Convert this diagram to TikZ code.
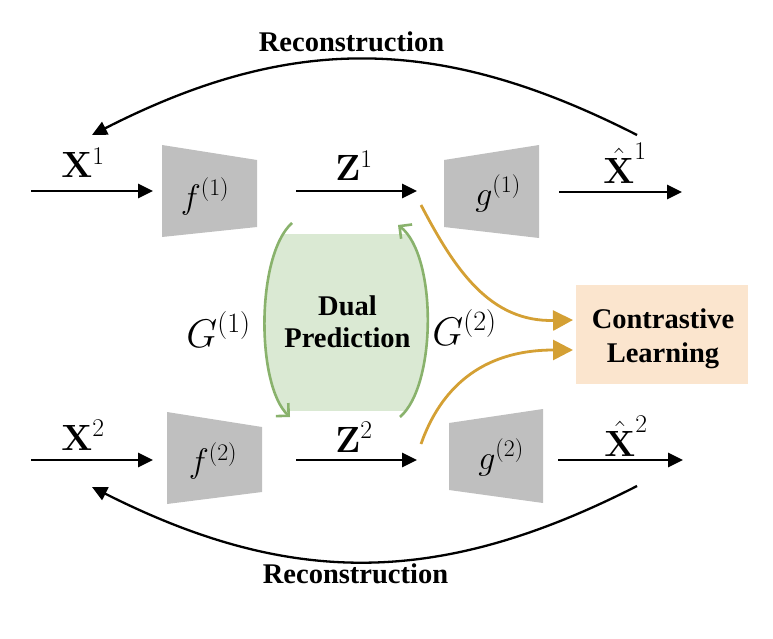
\documentclass[tikz,border=0pt]{standalone}
\usepackage{fix-cm}
\usepackage[no-math]{fontspec}
\newfontfamily\tnr{Liberation Serif}
\usetikzlibrary{arrows.meta}
\definecolor{encgray}{RGB}{191,191,191}
\definecolor{predgreen}{RGB}{137,178,108}
\definecolor{predfill}{RGB}{218,233,211}
\definecolor{contraorange}{RGB}{212,160,52}
\definecolor{contrafill}{RGB}{251,229,206}
\newcommand{\hatsup}[1]{\raisebox{10pt}{$\scriptstyle #1$}}
\tikzset{
  lbl/.style={font=\tnr\bfseries\fontsize{28.5}{32}\selectfont, inner sep=0pt, align=center},
  mth/.style={font=\fontsize{34}{40}\selectfont, inner sep=0pt},
  vecmth/.style={font=\fontsize{36.5}{42}\selectfont, inner sep=0pt},
  bigmth/.style={font=\fontsize{40}{46}\selectfont, inner sep=0pt},
  flow/.style={line width=2.8pt, -{Triangle[length=15pt,width=14pt]}},
  recon/.style={line width=2.3pt, -{Triangle[length=15pt,width=14pt]}},
  enc/.style={fill=encgray},
  pred/.style={draw=predgreen, line width=2.6pt, -{Straight Barb[length=9pt,width=18pt]}},
  contra/.style={draw=contraorange, line width=2.8pt, -{Triangle[length=20pt,width=20pt]}},
}
\begin{document}
\begin{tikzpicture}[x=1pt,y=-1pt]
\useasboundingbox (0,0) rectangle (773,639);

% dual prediction background
\begin{scope}
\clip (0,234) rectangle (773,410);
\fill[predfill] (292,223) .. controls (256,255) and (256,385) .. (290,417) -- (400,417) .. controls (437,385) and (437,255) .. (398,225) -- cycle;
\end{scope}

% encoders / decoders
\fill[enc] (162,145) -- (257,160) -- (257,227) -- (162,237) -- cycle;
\fill[enc] (444,160) -- (539,145) -- (539,238) -- (444,227) -- cycle;
\fill[enc] (167,412) -- (262,427) -- (262,492) -- (167,504) -- cycle;
\fill[enc] (449,423) -- (543,409) -- (543,503) -- (449,490) -- cycle;

\node[mth] (f1) at (205,196.5) {$f^{(1)}$};
\node[mth] (g1) at (498,193.5) {$g^{(1)}$};
\node[mth] (f2) at (213,461) {$f^{(2)}$};
\node[mth] (g2) at (501,457.5) {$g^{(2)}$};

% contrastive box
\fill[contrafill] (576,285) rectangle (748,384);
\node[lbl, font=\tnr\bfseries\fontsize{28.5}{34}\selectfont] (cl) at (663,338.3) {Contrastive\\Learning};

% labels
\node[vecmth, anchor=base] (lx1) at (83,178) {$\mathbf{X}^1$};
\node[vecmth, anchor=base] (lz1) at (354,181) {$\mathbf{Z}^1$};
\node[vecmth, anchor=base] (lh1) at (625,183) {$\hat{\mathbf{X}}^{\hatsup{1}}$};
\node[vecmth, anchor=base] (lx2) at (83,450) {$\mathbf{X}^2$};
\node[vecmth, anchor=base] (lz2) at (354,452) {$\mathbf{Z}^2$};
\node[vecmth, anchor=base] (lh2) at (626,456) {$\hat{\mathbf{X}}^{\hatsup{2}}$};
\node[bigmth, anchor=base] (G1) at (218.5,347) {$G^{(1)}$};
\node[bigmth, anchor=base] (G2) at (464.5,345) {$G^{(2)}$};
\node[lbl] (dp) at (347.5,321.3) {Dual\\Prediction};
\node[lbl, anchor=base] (rt) at (351.5,52) {Reconstruction};
\node[lbl, anchor=base] (rb) at (355.5,583) {Reconstruction};

% flow arrows
\coordinate (x1a) at (31,191); \coordinate (x1b) at (153,191);
\coordinate (z1a) at (296,191); \coordinate (z1b) at (417,191);
\coordinate (h1a) at (559,192); \coordinate (h1b) at (682,192);
\coordinate (x2a) at (31,460); \coordinate (x2b) at (153,460);
\coordinate (z2a) at (296,460); \coordinate (z2b) at (417,460);
\coordinate (h2a) at (558,460); \coordinate (h2b) at (683,460);
\draw[flow] (x1a) -- (x1b);
\draw[flow] (z1a) -- (z1b);
\draw[flow] (h1a) -- (h1b);
\draw[flow] (x2a) -- (x2b);
\draw[flow] (z2a) -- (z2b);
\draw[flow] (h2a) -- (h2b);

% reconstruction arcs
\coordinate (r1a) at (637,135); \coordinate (r1b) at (92,135);
\coordinate (r2a) at (637,486); \coordinate (r2b) at (92,487);
\draw[recon] (r1a) .. controls (439,34) and (290,34) .. (r1b);
\draw[recon] (r2a) .. controls (439,587) and (290,587) .. (r2b);

% dual prediction arcs
\coordinate (gl1) at (292,223); \coordinate (gl2) at (290,417);
\coordinate (gr1) at (400,417); \coordinate (gr2) at (398,225);
\draw[pred] (gl1) .. controls (256,255) and (256,385) .. (gl2);
\draw[pred] (gr1) .. controls (437,385) and (437,255) .. (gr2);

% contrastive arrows
\coordinate (o1) at (421,205); \coordinate (c1) at (573,320);
\coordinate (o2) at (421,444); \coordinate (c2) at (573,350);
\draw[contra] (o1) .. controls (455,270) and (490,322) .. (c1);
\draw[contra] (o2) .. controls (440,390) and (480,350) .. (c2);
\end{tikzpicture}
\end{document}
